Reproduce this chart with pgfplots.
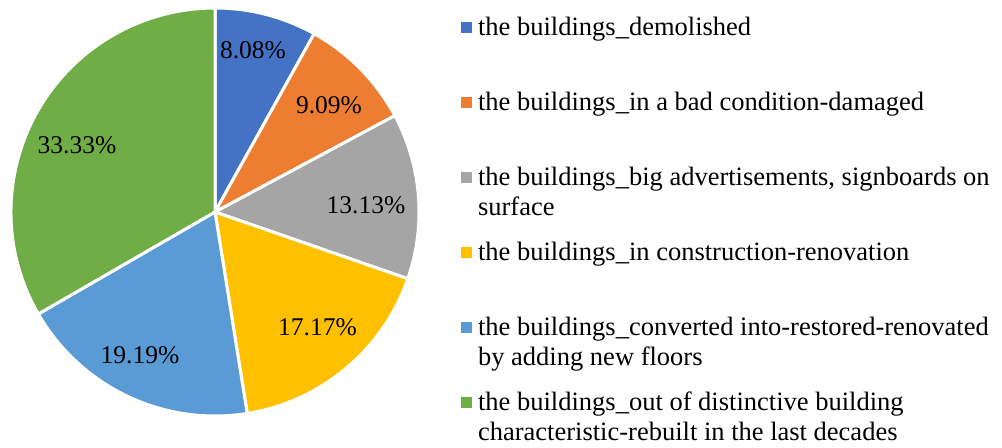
\documentclass[border=0pt]{standalone}
\usepackage{pgfplots}
\usepackage{pgfplotstable}
\pgfplotsset{compat=1.18}
\usepackage{fontspec}
\setmainfont{Liberation Serif}
\definecolor{c0}{HTML}{4472C4}
\definecolor{c1}{HTML}{ED7D31}
\definecolor{c2}{HTML}{A5A5A5}
\definecolor{c3}{HTML}{FFC000}
\definecolor{c4}{HTML}{5B9BD5}
\definecolor{c5}{HTML}{70AD47}
% pct = slice share; lx, ly = label offset from the pie centre
\pgfplotstableread{
idx pct lx ly
0 8.08 38 162
1 9.09 114 106.5
2 13.13 151 7
3 17.17 102.5 -115.5
4 19.19 -75 -143.5
5 33.33 -138 67
}\piedata
\gdef\acc{0}
\foreach \i in {0,...,5}{%
  \pgfplotstablegetelem{\i}{pct}\of\piedata
  \let\val\pgfplotsretval
  \pgfmathsetmacro{\s}{90-3.60036*\acc}%
  \pgfmathsetmacro{\newacc}{\acc+\val}%
  \pgfmathsetmacro{\e}{90-3.60036*\newacc}%
  \expandafter\xdef\csname sA\i\endcsname{\s}%
  \expandafter\xdef\csname eA\i\endcsname{\e}%
  \expandafter\xdef\csname lab\i\endcsname{\val}%
  \pgfplotstablegetelem{\i}{lx}\of\piedata
  \expandafter\xdef\csname lx\i\endcsname{\pgfplotsretval}%
  \pgfplotstablegetelem{\i}{ly}\of\piedata
  \expandafter\xdef\csname ly\i\endcsname{\pgfplotsretval}%
  \xdef\acc{\newacc}%
}
\def\cx{215}\def\cy{236}\def\R{204}
\newcommand\legimg[1]{\addlegendimage{legend image code/.code={\fill[#1] (0bp,3bp) rectangle (9.5bp,12.5bp);}}}
\newcommand\ltxt[1]{\parbox[t]{530bp}{#1}}
\begin{document}
\begin{tikzpicture}
\begin{axis}[
  x=1bp, y=1bp, xmin=0, xmax=1002, ymin=0, ymax=448,
  hide axis, clip=false,
  legend style={at={(axis cs:461,434)}, anchor=north west, draw=none, fill=none,
    inner sep=0pt, row sep=15bp, column sep=7bp,
    nodes={inner sep=0pt, text height=21bp, text depth=39bp,
           font=\fontsize{26.5bp}{30bp}\selectfont},
    cells={anchor=base west}},
]
\coordinate (ll) at (axis cs:0,0);
\coordinate (ur) at (axis cs:1002,448);
\pgfplotsinvokeforeach{0,...,5}{%
  \fill[c#1, draw=white, line width=3bp] (axis cs:\cx,\cy) -- ([shift={(\csname sA#1\endcsname:\R bp)}]axis cs:\cx,\cy)
     arc[start angle=\csname sA#1\endcsname, end angle=\csname eA#1\endcsname, radius=\R bp] -- cycle;%
}
\pgfplotsinvokeforeach{0,...,5}{%
  \node[font=\fontsize{25.5bp}{30bp}\selectfont] at ([shift={(\csname lx#1\endcsname bp,\csname ly#1\endcsname bp)}]axis cs:\cx,\cy) {\csname lab#1\endcsname\%};%
}
\legimg{c0}
\addlegendentry{\ltxt{the buildings\_demolished}}
\legimg{c1}
\addlegendentry{\ltxt{the buildings\_in a bad condition-damaged}}
\legimg{c2}
\addlegendentry{\ltxt{the buildings\_big advertisements, signboards on\\surface}}
\legimg{c3}
\addlegendentry{\ltxt{the buildings\_in construction-renovation}}
\legimg{c4}
\addlegendentry{\ltxt{the buildings\_converted into-restored-renovated\\by adding new floors}}
\legimg{c5}
\addlegendentry{\ltxt{the buildings\_out of distinctive building\\characteristic-rebuilt in the last decades}}
\end{axis}
\pgfresetboundingbox
\path (ll) rectangle (ur);
\end{tikzpicture}
\end{document}
